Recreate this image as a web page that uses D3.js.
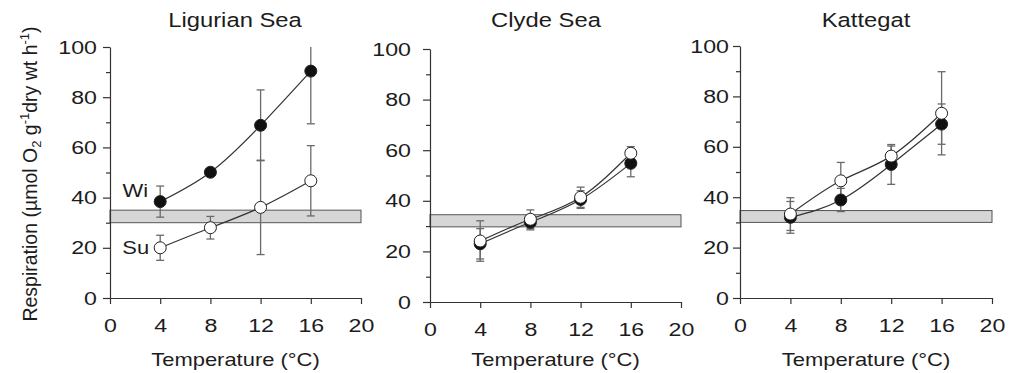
<!DOCTYPE html>
<html>
<head>
<meta charset="utf-8">
<script src="https://cdn.jsdelivr.net/npm/d3@7"></script>
<style>
  body { margin: 0; background: #fff; }
  text { font-family: "Liberation Sans", Arial, sans-serif; fill: #1c1c1c; }
</style>
</head>
<body>
<div id="chart"></div>
<script>
// temperatures measured (°C) and axis ticks
var temps = [4, 8, 12, 16];
var xTicks = [0, 4, 8, 12, 16, 20];
var yTicks = [0, 20, 40, 60, 80, 100];
var yMinor = [10, 30, 50, 70, 90];
var regions = ["Ligurian Sea", "Clyde Sea", "Kattegat"];

// winter (filled) and summer (open) respiration, with error
var ligurianWi = [38.4, 50.1, 68.8, 90.4];
var ligurianWiErr = [6.2, 1, 14.1, 21];
var ligurianSu = [20, 28, 36.1, 46.7];
var ligurianSuErr = [5, 4.5, 18.8, 14];

var clydeWi = [23, 31.5, 40.5, 54.8];
var clydeWiErr = [6, 3, 3.5, 5.3];
var clydeSu = [24.1, 32.7, 41.4, 58.8];
var clydeSuErr = [8, 3.7, 4, 2.6];

var kattegatWi = [32, 38.9, 53, 69];
var kattegatWiErr = [6.3, 4.6, 7.9, 8];
var kattegatSu = [33.3, 46.5, 56.3, 73.3];
var kattegatSuErr = [6.5, 7.3, 4, 16.5];

// shaded band (range of in situ values)
var bandLow = [30, 29.7, 30];
var bandHigh = [35, 34.5, 34.7];

var panels = [
  { wi: ligurianWi, wiErr: ligurianWiErr, su: ligurianSu, suErr: ligurianSuErr },
  { wi: clydeWi, wiErr: clydeWiErr, su: clydeSu, suErr: clydeSuErr },
  { wi: kattegatWi, wiErr: kattegatWiErr, su: kattegatSu, suErr: kattegatSuErr }
];

// layout
var SX = 1.22;              // source figure is stretched horizontally
var panelLeft = [110, 430, 740],
    panelWidth = [251, 251, 252],
    panelTop = [47, 49, 46],
    panelBottom = [298, 302, 298],
    labelGap = [13, 19, 11],
    titleX = [235, 546, 866];

var svg = d3.select("#chart").append("svg")
    .attr("width", 1013)
    .attr("height", 373);

function addText(g, x, y, str, size, anchor) {
  return g.append("text")
      .attr("transform", "translate(" + x + "," + y + ") scale(" + SX + ",1)")
      .attr("text-anchor", anchor || "middle")
      .style("font-size", size + "px")
      .text(str);
}

panels.forEach(function(p, i) {
  var x = d3.scaleLinear().domain([0, 20]).range([panelLeft[i], panelLeft[i] + panelWidth[i]]);
  var y = d3.scaleLinear().domain([0, 100]).range([panelBottom[i], panelTop[i]]);
  var g = svg.append("g");

  g.append("clipPath").attr("id", "clip" + i)
    .append("rect")
      .attr("x", x(0)).attr("y", y(100))
      .attr("width", x(20) - x(0) + 10).attr("height", y(0) - y(100));

  // band
  g.append("rect")
      .attr("x", x(0))
      .attr("y", y(bandHigh[i]))
      .attr("width", x(20) - x(0))
      .attr("height", y(bandLow[i]) - y(bandHigh[i]))
      .attr("fill", "#d6d6d6")
      .attr("stroke", "#555")
      .attr("stroke-width", 1);

  // axes
  var yAxis = g.append("g")
      .attr("transform", "translate(" + x(0) + ",0)")
      .call(d3.axisLeft(y).tickValues(yTicks).tickSize(7).tickSizeOuter(0));
  yAxis.selectAll("text")
      .attr("x", -labelGap[i] / SX)
      .attr("transform", "scale(" + SX + ",1)")
      .style("font-size", "19px");
  g.append("g")
      .attr("transform", "translate(" + x(0) + ",0)")
      .call(d3.axisLeft(y).tickValues(yMinor).tickSize(4).tickFormat(""))
      .select(".domain").remove();

  var xAxis = g.append("g")
      .attr("transform", "translate(0," + y(0) + ")")
      .call(d3.axisBottom(x).tickValues(xTicks).tickSize(6).tickSizeOuter(0).tickPadding(15));
  xAxis.selectAll("text")
      .attr("transform", "scale(" + SX + ",1)")
      .style("font-size", "19px");

  g.selectAll(".domain, .tick line").attr("stroke", "#333").attr("stroke-width", 1.2);
  g.selectAll(".tick text").style("font-family", "'Liberation Sans', Arial, sans-serif").attr("fill", "#1c1c1c");

  addText(g, titleX[i], 27, regions[i], 19.5);
  addText(g, (x(0) + x(20)) / 2, 366, "Temperature (°C)", 18);

  var plot = g.append("g").attr("clip-path", "url(#clip" + i + ")");
  var line = d3.line()
      .x(function(d, k) { return x(temps[k]); })
      .y(function(d) { return y(d); })
      .curve(d3.curveNatural);

  [["wi", "#111"], ["su", "#fff"]].forEach(function(s) {
    var vals = p[s[0]], errs = p[s[0] + "Err"];

    plot.append("path")
        .attr("d", line(vals))
        .attr("fill", "none")
        .attr("stroke", "#333")
        .attr("stroke-width", 1.2);

    var eb = plot.append("g")
        .attr("stroke", "#6a6a6a")
        .attr("stroke-width", 1.3);
    vals.forEach(function(v, k) {
      var cx = x(temps[k]);
      eb.append("line")
          .attr("x1", cx).attr("x2", cx)
          .attr("y1", y(v - errs[k])).attr("y2", y(v + errs[k]));
      [v - errs[k], v + errs[k]].forEach(function(e) {
        eb.append("line")
            .attr("x1", cx - 4).attr("x2", cx + 4)
            .attr("y1", y(e)).attr("y2", y(e));
      });
    });
  });

  // markers drawn last: filled first, open on top
  [["wi", "#111"], ["su", "#fff"]].forEach(function(s) {
    g.selectAll(null)
        .data(p[s[0]])
        .enter().append("circle")
        .attr("cx", function(d, k) { return x(temps[k]); })
        .attr("cy", function(d) { return y(d); })
        .attr("r", 6)
        .attr("fill", s[1])
        .attr("stroke", "#222")
        .attr("stroke-width", 1);
  });

  if (i === 0) {
    addText(g, x(temps[0]) - 12, y(p.wi[0]) - 5, "Wi", 18, "end");
    addText(g, x(temps[0]) - 11, y(p.su[0]) + 6, "Su", 18, "end");
  }
});

// y axis title with sub/superscripts
var yl = svg.append("text")
    .attr("transform", "translate(37,174) rotate(-90)")
    .attr("text-anchor", "middle")
    .style("font-size", "19.5px");
yl.append("tspan").text("Respiration (µmol O");
yl.append("tspan").attr("dy", 4).style("font-size", "13px").text("2");
yl.append("tspan").attr("dy", -4).text(" g");
yl.append("tspan").attr("dy", -8).style("font-size", "13px").text("-1");
yl.append("tspan").attr("dy", 8).text("dry wt h");
yl.append("tspan").attr("dy", -8).style("font-size", "13px").text("-1");
yl.append("tspan").attr("dy", 8).text(")");
</script>
</body>
</html>
